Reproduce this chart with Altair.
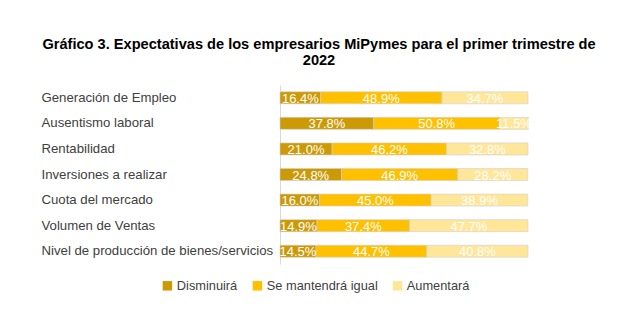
import altair as alt
import pandas as pd

categories = [
    "Generación de Empleo",
    "Ausentismo laboral",
    "Rentabilidad",
    "Inversiones a realizar",
    "Cuota del mercado",
    "Volumen de Ventas",
    "Nivel de producción de bienes/servicios",
]
series = ["Disminuirá", "Se mantendrá igual", "Aumentará"]
disminuira = [16.4, 37.8, 21.0, 24.8, 16.0, 14.9, 14.5]
mantendra = [48.9, 50.8, 46.2, 46.9, 45.0, 37.4, 44.7]
aumentara = [34.7, 11.5, 32.8, 28.2, 38.9, 47.7, 40.8]
colors = ["#CC9A06", "#FFC000", "#FFE699"]

rows = []
for i, c in enumerate(categories):
    for j, (s, vals) in enumerate(zip(series, [disminuira, mantendra, aumentara])):
        rows.append({"cat": c, "serie": s, "val": vals[i], "ord": j})
df = pd.DataFrame(rows)

FONT = "Liberation Sans"

base = alt.Chart(df).transform_stack(
    stack="val", groupby=["cat"], as_=["x0", "x1"], sort=[alt.SortField("ord")]
).transform_calculate(
    mid="(datum.x0 + datum.x1) / 2",
    lab="format(datum.val, '.1f') + '%'",
)

yenc = alt.Y(
    "cat:N",
    sort=categories,
    title=None,
    scale=alt.Scale(paddingInner=0.53, paddingOuter=0.265),
    axis=alt.Axis(
        ticks=False,
        labelAlign="left",
        labelPadding=239,
        labelFont=FONT,
        labelFontSize=13.2,
        labelColor="#404040",
        domainColor="#D9D9D9",
        domainWidth=1,
        labelLimit=300,
    ),
)

xscale = alt.Scale(domain=[0, 100], nice=False, zero=True)

bars = base.mark_bar(stroke="#D0D0D0", strokeWidth=0.6).encode(
    y=yenc,
    x=alt.X("x0:Q", scale=xscale, axis=None),
    x2="x1:Q",
    color=alt.Color(
        "serie:N",
        sort=series,
        scale=alt.Scale(domain=series, range=colors),
        legend=alt.Legend(
            title=None,
            orient="none",
            direction="horizontal",
            legendX=-119,
            legendY=194,
            symbolType="square",
            symbolSize=90,
            symbolStrokeWidth=0,
            labelFont=FONT,
            labelFontSize=12.8,
            labelColor="#404040",
            labelOffset=3,
            columnPadding=13,
        ),
    ),
)

labels = base.mark_text(
    color="white", font=FONT, fontSize=13, baseline="middle", align="center", dy=1
).encode(
    y=yenc,
    x=alt.X("mid:Q", scale=xscale, axis=None),
    text="lab:N",
)

chart = (
    alt.layer(bars, labels)
    .properties(
        width=248,
        height=179,
        autosize=alt.AutoSizeParams(type="none"),
        padding={"left": 280, "top": 85, "right": 113, "bottom": 70},
        background="white",
        title=alt.TitleParams(
            text=[
                "Gráfico 3. Expectativas de los empresarios MiPymes para el primer trimestre de",
                "2022",
            ],
            font=FONT,
            fontSize=14.6,
            fontWeight="bold",
            color="#000000",
            anchor="middle",
            dx=-85,
            offset=17,
            lineHeight=16,
        ),
    )
    .configure_view(strokeWidth=0)
)

chart.save("out.html", embed_options={"renderer": "svg", "actions": False})
